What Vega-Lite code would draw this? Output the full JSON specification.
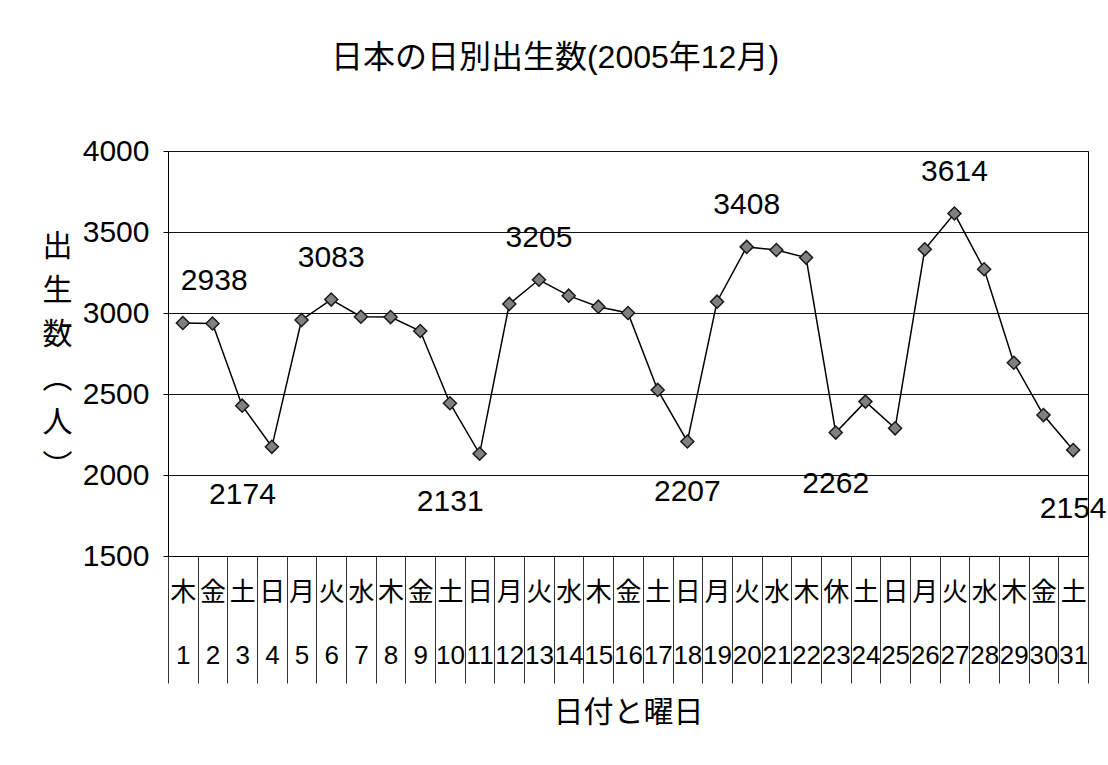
{
  "$schema": "https://vega.github.io/schema/vega-lite/v6.json",
  "autosize": {"type": "none"},
  "width": 920,
  "height": 405,
  "padding": {"left": 168, "top": 151, "right": 20, "bottom": 209},
  "background": "white",
  "title": {
    "text": "日本の日別出生数(2005年12月)",
    "fontSize": 32,
    "font": "Liberation Sans, Noto Sans CJK JP",
    "fontWeight": "normal",
    "color": "black",
    "anchor": "middle",
    "frame": "group",
    "dx": -73,
    "offset": 61
  },
  "data": {
    "values": [
      {"day": 1, "wd": "木", "label": "木|1", "births": 2938},
      {"day": 2, "wd": "金", "label": "金|2", "births": 2935},
      {"day": 3, "wd": "土", "label": "土|3", "births": 2428},
      {"day": 4, "wd": "日", "label": "日|4", "births": 2174},
      {"day": 5, "wd": "月", "label": "月|5", "births": 2957},
      {"day": 6, "wd": "火", "label": "火|6", "births": 3083},
      {"day": 7, "wd": "水", "label": "水|7", "births": 2977},
      {"day": 8, "wd": "木", "label": "木|8", "births": 2975},
      {"day": 9, "wd": "金", "label": "金|9", "births": 2889},
      {"day": 10, "wd": "土", "label": "土|10", "births": 2443},
      {"day": 11, "wd": "日", "label": "日|11", "births": 2131},
      {"day": 12, "wd": "月", "label": "月|12", "births": 3056},
      {"day": 13, "wd": "火", "label": "火|13", "births": 3205},
      {"day": 14, "wd": "水", "label": "水|14", "births": 3107},
      {"day": 15, "wd": "木", "label": "木|15", "births": 3039},
      {"day": 16, "wd": "金", "label": "金|16", "births": 3000},
      {"day": 17, "wd": "土", "label": "土|17", "births": 2525},
      {"day": 18, "wd": "日", "label": "日|18", "births": 2207},
      {"day": 19, "wd": "月", "label": "月|19", "births": 3070},
      {"day": 20, "wd": "火", "label": "火|20", "births": 3408},
      {"day": 21, "wd": "水", "label": "水|21", "births": 3389},
      {"day": 22, "wd": "木", "label": "木|22", "births": 3342},
      {"day": 23, "wd": "休", "label": "休|23", "births": 2262},
      {"day": 24, "wd": "土", "label": "土|24", "births": 2453},
      {"day": 25, "wd": "日", "label": "日|25", "births": 2288},
      {"day": 26, "wd": "月", "label": "月|26", "births": 3393},
      {"day": 27, "wd": "火", "label": "火|27", "births": 3614},
      {"day": 28, "wd": "水", "label": "水|28", "births": 3270},
      {"day": 29, "wd": "木", "label": "木|29", "births": 2693},
      {"day": 30, "wd": "金", "label": "金|30", "births": 2370},
      {"day": 31, "wd": "土", "label": "土|31", "births": 2154}
    ]
  },
  "encoding": {
    "x": {
      "field": "label",
      "type": "ordinal",
      "sort": null,
      "scale": {"type": "band", "paddingInner": 0, "paddingOuter": 0},
      "axis": {
        "title": "日付と曜日",
        "titleFontSize": 30,
        "titleFont": "Noto Sans CJK JP",
        "titleFontWeight": "normal",
        "titleColor": "black",
        "titlePadding": 14,
        "grid": false,
        "labelExpr": "split(datum.label, '|')",
        "labelAngle": 0,
        "labelFontSize": 26,
        "labelFont": "Liberation Sans, Noto Sans CJK JP",
        "labelColor": "black",
        "labelLineHeight": 63,
        "labelPadding": -104,
        "labelBaseline": "top",
        "labelOverlap": false,
        "labelBound": false,
        "tickBand": "extent",
        "tickSize": 127,
        "tickColor": "#333333",
        "tickWidth": 1,
        "domainColor": "black"
      }
    },
    "y": {
      "field": "births",
      "type": "quantitative",
      "scale": {"domain": [1500, 4000]},
      "axis": {
        "title": ["出", "生", "数", "︵", "人", "︶"],
        "titleAngle": 0,
        "titleX": -111,
        "titleY": 80,
        "titleAlign": "center",
        "titleBaseline": "top",
        "titleLineHeight": 44,
        "titleFontSize": 30,
        "titleFont": "Noto Sans CJK JP",
        "titleFontWeight": "normal",
        "titleColor": "black",
        "values": [1500, 2000, 2500, 3000, 3500, 4000],
        "format": "d",
        "labelFontSize": 30,
        "labelFont": "Liberation Sans",
        "labelColor": "black",
        "labelPadding": 14,
        "tickSize": 5,
        "tickColor": "black",
        "grid": true,
        "gridColor": "#111111",
        "gridWidth": 1.2,
        "gridOpacity": 1,
        "domainColor": "black"
      }
    }
  },
  "layer": [
    {"mark": {"type": "line", "color": "black", "strokeWidth": 1.5}, "encoding": {"order": {"field": "day", "type": "quantitative"}}},
    {"mark": {"type": "point", "shape": "diamond", "filled": true, "size": 170, "color": "#808080", "stroke": "#1a1a1a", "strokeWidth": 1.5, "opacity": 1}},
    {
      "mark": {"type": "text", "fontSize": 30, "font": "Liberation Sans", "color": "black", "baseline": "middle", "align": "center", "dy": -42},
      "encoding": {"text": {"condition": {"test": "indexof([6,13,20,27], datum.day) >= 0", "field": "births", "type": "nominal"}, "value": ""}}
    },
    {
      "mark": {"type": "text", "fontSize": 30, "font": "Liberation Sans", "color": "black", "baseline": "middle", "align": "left", "dx": -2, "dy": -42},
      "encoding": {"text": {"condition": {"test": "datum.day == 1", "field": "births", "type": "nominal"}, "value": ""}}
    },
    {
      "mark": {"type": "text", "fontSize": 30, "font": "Liberation Sans", "color": "black", "baseline": "middle", "align": "right", "dx": 4, "dy": 48},
      "encoding": {"text": {"condition": {"test": "indexof([4,11], datum.day) >= 0", "field": "births", "type": "nominal"}, "value": ""}}
    },
    {
      "mark": {"type": "text", "fontSize": 30, "font": "Liberation Sans", "color": "black", "baseline": "middle", "align": "center", "dy": 51},
      "encoding": {"text": {"condition": {"test": "indexof([18,23], datum.day) >= 0", "field": "births", "type": "nominal"}, "value": ""}}
    },
    {
      "mark": {"type": "text", "fontSize": 30, "font": "Liberation Sans", "color": "black", "baseline": "middle", "align": "center", "dx": 0, "dy": 59},
      "encoding": {"text": {"condition": {"test": "datum.day == 31", "field": "births", "type": "nominal"}, "value": ""}}
    }
  ],
  "config": {
    "view": {"stroke": "black", "strokeWidth": 1}
  }
}
